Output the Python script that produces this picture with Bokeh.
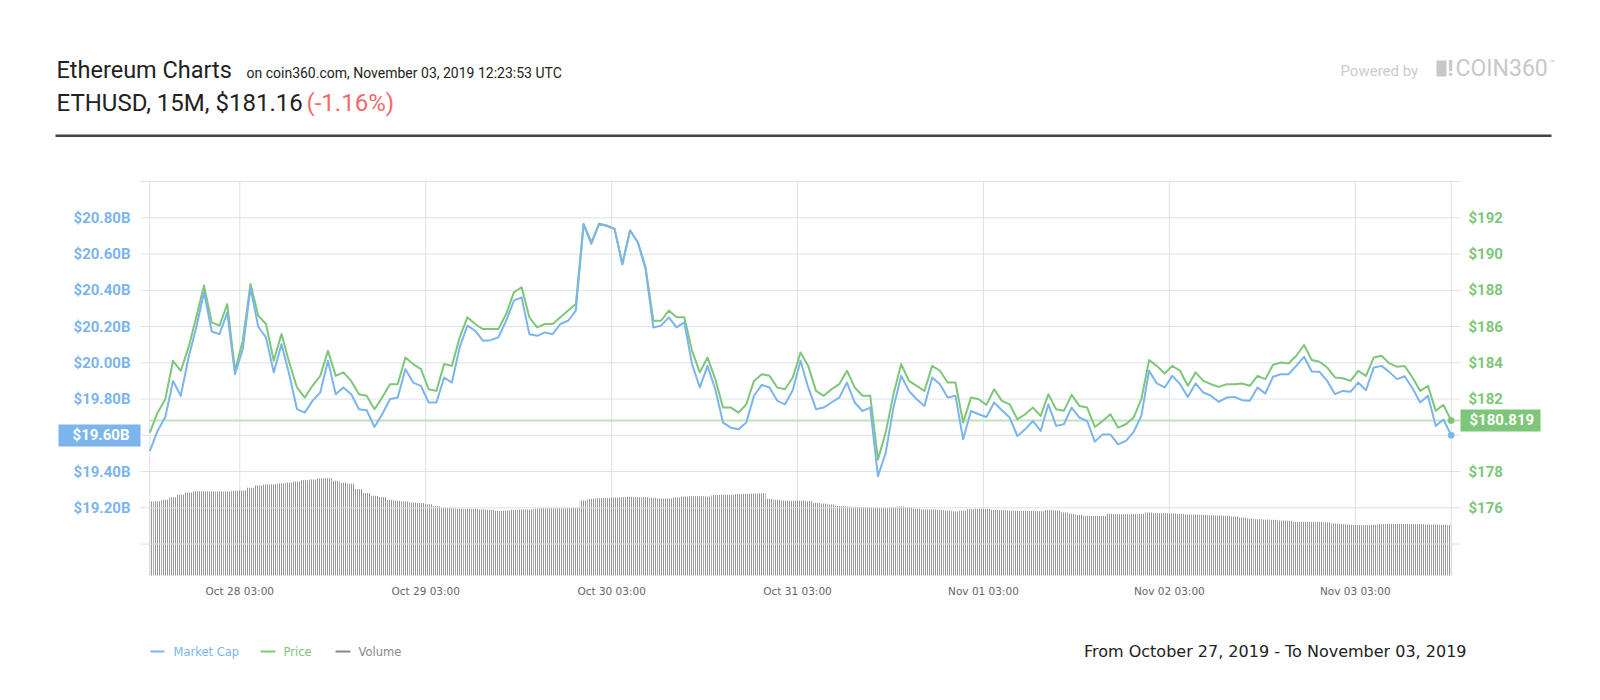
from datetime import datetime, timedelta
from bokeh.plotting import figure
from bokeh.models import Range1d
from bokeh.core.properties import value
from bokeh.embed import file_html
from bokeh.resources import INLINE

# ---------------- data (hourly samples, Oct 27 15:23 -> Nov 03 15:23) ----------------
start_time = datetime(2019, 10, 27, 15, 23)
n_points = 169

price = [
    180.15, 181.25, 181.99, 184.11, 183.56, 184.85, 186.51, 188.26, 186.23, 186.05,
    187.24, 183.56, 185.22, 188.35, 186.60, 186.14, 184.11, 185.59, 184.02, 182.64,
    182.08, 182.73, 183.28, 184.66, 183.28, 183.47, 183.00, 182.27, 182.18, 181.44,
    182.08, 182.82, 182.82, 184.29, 183.93, 183.65, 182.54, 182.45, 183.93, 183.83,
    185.40, 186.51, 186.14, 185.86, 185.86, 185.86, 186.69, 187.89, 188.17, 186.51,
    185.95, 186.14, 186.14, 186.51, 186.88, 187.24, 191.67, 190.65, 191.67, 191.55,
    191.39, 189.46, 191.30, 190.65, 189.27, 186.32, 186.32, 186.88, 186.51, 186.51,
    184.66, 183.47, 184.29, 183.10, 181.53, 181.53, 181.25, 181.71, 183.00, 183.37,
    183.28, 182.64, 182.54, 183.19, 184.57, 183.83, 182.45, 182.18, 182.54, 182.82,
    183.56, 182.64, 182.18, 182.18, 178.67, 180.15, 182.27, 183.93, 183.00, 182.73,
    182.45, 183.83, 183.56, 182.91, 182.91, 180.70, 182.08, 181.99, 181.68, 182.54,
    181.90, 181.71, 180.88, 181.16, 181.53, 181.07, 182.27, 181.44, 181.35, 182.23,
    181.62, 181.53, 180.46, 180.79, 181.16, 180.42, 180.61, 180.98, 181.99, 184.15,
    183.83, 183.41, 183.83, 183.56, 182.73, 183.47, 183.00, 182.82, 182.67, 182.82,
    182.82, 182.86, 182.73, 183.28, 183.10, 183.89, 184.02, 183.96, 184.39, 184.98,
    184.15, 184.06, 183.74, 183.19, 183.15, 183.00, 183.56, 183.28, 184.29, 184.39,
    183.98, 183.78, 183.82, 183.19, 182.45, 182.73, 181.35, 181.68, 180.82,
]

market_cap_b = [
    19.513, 19.624, 19.701, 19.900, 19.818, 20.029, 20.195, 20.389, 20.173, 20.158,
    20.278, 19.937, 20.075, 20.413, 20.199, 20.140, 19.947, 20.103, 19.937, 19.744,
    19.725, 19.790, 19.836, 20.011, 19.827, 19.864, 19.827, 19.744, 19.738, 19.646,
    19.716, 19.799, 19.808, 19.965, 19.891, 19.873, 19.781, 19.781, 19.919, 19.891,
    20.085, 20.205, 20.177, 20.122, 20.125, 20.140, 20.232, 20.343, 20.361, 20.158,
    20.149, 20.168, 20.158, 20.214, 20.232, 20.288, 20.763, 20.656, 20.767, 20.758,
    20.739, 20.542, 20.730, 20.665, 20.518, 20.195, 20.205, 20.251, 20.195, 20.223,
    19.993, 19.864, 19.983, 19.854, 19.670, 19.642, 19.633, 19.670, 19.818, 19.878,
    19.864, 19.790, 19.771, 19.849, 20.011, 19.864, 19.744, 19.753, 19.781, 19.808,
    19.891, 19.781, 19.734, 19.753, 19.375, 19.504, 19.753, 19.928, 19.845, 19.799,
    19.762, 19.919, 19.882, 19.808, 19.818, 19.578, 19.734, 19.716, 19.701, 19.781,
    19.738, 19.698, 19.596, 19.633, 19.679, 19.624, 19.771, 19.652, 19.661, 19.753,
    19.698, 19.679, 19.565, 19.605, 19.605, 19.550, 19.569, 19.618, 19.707, 19.956,
    19.886, 19.864, 19.928, 19.882, 19.812, 19.886, 19.836, 19.818, 19.784, 19.808,
    19.812, 19.794, 19.790, 19.864, 19.830, 19.923, 19.937, 19.937, 19.983, 20.033,
    19.952, 19.950, 19.900, 19.827, 19.845, 19.840, 19.891, 19.849, 19.974, 19.983,
    19.950, 19.910, 19.926, 19.860, 19.781, 19.818, 19.652, 19.687, 19.600,
]

volume_b = [
    7.49, 7.53, 7.66, 7.93, 8.17, 8.41, 8.54, 8.54, 8.51, 8.51,
    8.51, 8.57, 8.61, 8.88, 9.11, 9.22, 9.25, 9.35, 9.42, 9.52,
    9.65, 9.72, 9.82, 9.86, 9.59, 9.38, 9.28, 8.74, 8.34, 8.07,
    7.93, 7.66, 7.56, 7.49, 7.39, 7.33, 7.22, 7.02, 6.85, 6.82,
    6.75, 6.75, 6.75, 6.68, 6.65, 6.55, 6.58, 6.65, 6.68, 6.68,
    6.78, 6.82, 6.82, 6.82, 6.82, 6.85, 7.59, 7.76, 7.83, 7.86,
    7.90, 7.93, 7.97, 7.93, 7.93, 7.86, 7.80, 7.80, 7.90, 8.00,
    8.03, 8.03, 8.00, 8.14, 8.17, 8.17, 8.24, 8.27, 8.30, 8.34,
    7.76, 7.66, 7.59, 7.56, 7.59, 7.53, 7.36, 7.29, 7.19, 7.05,
    6.99, 6.95, 6.92, 6.89, 6.85, 6.85, 6.92, 6.99, 6.89, 6.78,
    6.68, 6.68, 6.65, 6.58, 6.48, 6.58, 6.72, 6.78, 6.75, 6.65,
    6.62, 6.58, 6.55, 6.55, 6.55, 6.51, 6.62, 6.58, 6.38, 6.24,
    6.14, 6.04, 6.04, 6.04, 6.24, 6.21, 6.21, 6.21, 6.24, 6.38,
    6.31, 6.31, 6.28, 6.24, 6.18, 6.18, 6.14, 6.11, 6.08, 6.04,
    5.97, 5.87, 5.77, 5.70, 5.67, 5.64, 5.57, 5.54, 5.43, 5.43,
    5.43, 5.43, 5.37, 5.27, 5.20, 5.13, 5.10, 5.10, 5.13, 5.20,
    5.23, 5.23, 5.23, 5.20, 5.20, 5.16, 5.16, 5.13, 5.13,
]

current_price = 180.819
current_cap_b = 19.60
mc_ticks = [19.2, 19.4, 19.8, 20.0, 20.2, 20.4, 20.6, 20.8]
mc_grid_ticks = [19.0, 19.2, 19.4, 19.6, 19.8, 20.0, 20.2, 20.4, 20.6, 20.8, 21.0]
price_ticks = [176, 178, 182, 184, 186, 188, 190, 192]
day_ticks = [datetime(2019, 10, 28, 3), datetime(2019, 10, 29, 3), datetime(2019, 10, 30, 3),
             datetime(2019, 10, 31, 3), datetime(2019, 11, 1, 3), datetime(2019, 11, 2, 3),
             datetime(2019, 11, 3, 3)]

times = [start_time + timedelta(hours=i) for i in range(n_points)]

# ---------------- style ----------------
BLUE = "#7cb5ec"
GREEN = "#7ec679"
GRID = "#dbe2ea"
W, H = 1592, 692

# The frame covers the whole canvas; the chart's scales are set so that the
# data occupy the plot area of the reference (x 149..1451, y 180..575 px).
hour_px = (1450.7 - 149.3) / (n_points - 1)
x_start = start_time - timedelta(hours=149.3 / hour_px)
x_end = start_time + timedelta(hours=(W - 149.3) / hour_px)
mc_px = 181.25      # px per 1B market cap
pr_px = 18.125      # px per 1$ price
vol_px = 9.875      # px per 1B volume

p = figure(width=W, height=H, x_axis_type=None, y_axis_type=None, title=None,
           x_range=Range1d(x_start, x_end),
           y_range=Range1d(20.8 - (H - 217.3) / mc_px, 20.8 + 217.3 / mc_px),
           output_backend="svg", toolbar_location=None,
           min_border=0, min_border_left=0, min_border_right=0,
           min_border_top=0, min_border_bottom=0)
p.outline_line_color = None
p.background_fill_color = "white"
p.border_fill_color = "white"
p.grid.visible = False
p.extra_y_ranges = {
    "price": Range1d(192 - (H - 217.3) / pr_px, 192 + 217.3 / pr_px),
    "vol": Range1d(-(H - 575) / vol_px, 575 / vol_px),
    "py": Range1d(H, 0),
}
p.extra_x_ranges = {"px": Range1d(0, W)}

def txt(xs, ys, texts, size, color, font="Roboto", style="normal", align="left",
        baseline="middle", xr="px", yr="py"):
    kw = {}
    if xr:
        kw["x_range_name"] = xr
    if yr:
        kw["y_range_name"] = yr
    p.text(x=xs, y=ys, text=texts, text_font=value(font), text_font_size=size,
           text_font_style=style, text_color=color, text_align=align,
           text_baseline=baseline, **kw)

def rect(l, r, t, b, color):
    p.quad(left=[l], right=[r], top=[t], bottom=[b], x_range_name="px", y_range_name="py",
           fill_color=color, line_color=None)

# vertical grid lines (days) and plot edges
vx = day_ticks + [times[0], times[-1]]
p.segment(x0=vx, x1=vx, y0=[180] * len(vx), y1=[575] * len(vx), y_range_name="py",
          line_color=GRID, line_width=1)

# volume bars (dense vertical hatching), each bar covers its hour, kept within the series span
half = timedelta(minutes=30)
bar_left = [max(t - half, times[0]) for t in times]
bar_right = [min(t + half, times[-1]) for t in times]
p.quad(left=bar_left, right=bar_right, top=volume_b, bottom=[0] * n_points, y_range_name="vol",
       fill_color=None, line_color=None,
       hatch_pattern="|", hatch_color="#6a6a6a", hatch_scale=2, hatch_weight=1.4)

# horizontal grid lines
p.segment(x0=[140] * len(mc_grid_ticks), x1=[1460] * len(mc_grid_ticks),
          y0=mc_grid_ticks, y1=mc_grid_ticks, x_range_name="px",
          line_color=GRID, line_width=1)

# current price line
p.segment(x0=[149.3], x1=[1460], y0=[current_price], y1=[current_price],
          x_range_name="px", y_range_name="price", line_color="#bfe3bb", line_width=2)

# series
p.line(times, price, y_range_name="price", line_color=GREEN, line_width=2, line_join="round")
p.line(times, market_cap_b, line_color=BLUE, line_width=2, line_join="round")
p.scatter([times[-1]], [current_price], y_range_name="price", size=6, fill_color=GREEN, line_color=GREEN)
p.scatter([times[-1]], [current_cap_b], size=6, fill_color=BLUE, line_color=BLUE)

# axis tick labels
txt([130] * len(mc_ticks), mc_ticks, ["$%.2fB" % v for v in mc_ticks], "15px", BLUE,
    style="bold", align="right", yr=None)
txt([1468] * len(price_ticks), price_ticks, ["$%d" % v for v in price_ticks], "15px", GREEN,
    style="bold", align="left", yr="price")
txt(day_ticks, [590] * len(day_ticks), [d.strftime("%b %d %H:%M") for d in day_ticks],
    "10.5px", "#666666", font="DejaVu Sans", align="center", xr=None)

# tags for the current values
rect(58, 140, 424, 446, BLUE)
txt([129], [current_cap_b], ["$%.2fB" % current_cap_b], "15px", "white", style="bold",
    align="right", yr=None)
rect(1460, 1540, 409, 431, GREEN)
txt([1469], [current_price], ["$%.3f" % current_price], "15px", "white", style="bold",
    align="left", yr="price")

# header
txt([56], [69], ["Ethereum Charts"], "23.5px", "#222222")
txt([246], [72], ["on coin360.com, November 03, 2019 12:23:53 UTC"], "14px", "#222222")
txt([56], [102], ["ETHUSD, 15M, $181.16"], "24px", "#222222")
txt([306], [102], ["(-1.16%)"], "24px", "#f06a6a")
rect(55, 1551, 134, 136.5, "#444444")

txt([1340], [70], ["Powered by"], "15px", "#cccccc")
rect(1436, 1446, 60, 76, "#c8c8c8")
txt([1447], [68], ["!"], "22px", "#c8c8c8", style="bold")
txt([1455], [68], ["COIN360"], "23px", "#c8c8c8")
txt([1549], [63], ["\u2122"], "10px", "#c8c8c8")

# legend
rect(150, 164, 650, 652, BLUE)
txt([173], [651], ["Market Cap"], "11.5px", BLUE, font="DejaVu Sans")
rect(260, 275, 650, 652, GREEN)
txt([283], [651], ["Price"], "11.5px", GREEN, font="DejaVu Sans")
rect(335, 350, 650, 652, "#888888")
txt([358], [651], ["Volume"], "11.5px", "#888888", font="DejaVu Sans")

# footer
txt([1466], [651], ["From October 27, 2019 - To November 03, 2019"], "16px", "#222222",
    font="DejaVu Sans", align="right")

open("out.html", "w").write(file_html(p, INLINE))
